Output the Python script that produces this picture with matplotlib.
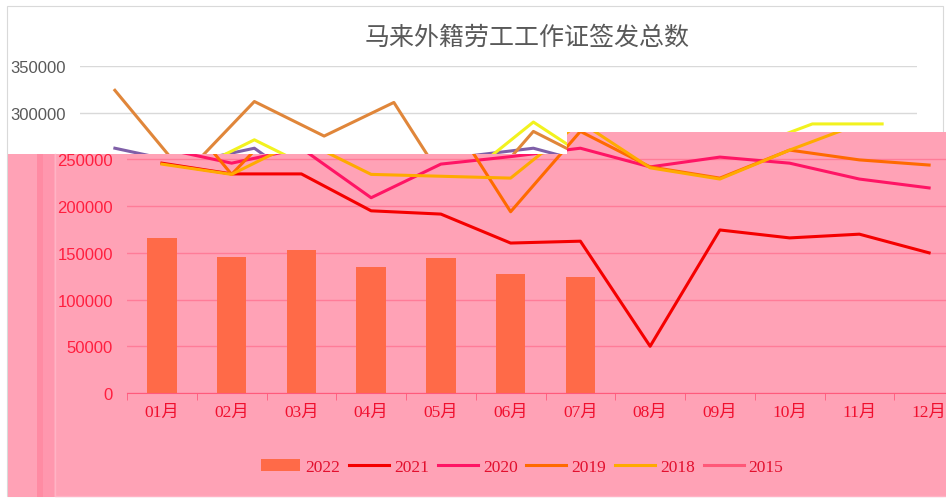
import numpy as np
import matplotlib.pyplot as plt
from matplotlib.patches import Polygon, Rectangle
from matplotlib.lines import Line2D
from matplotlib.transforms import Bbox, TransformedBbox

# data
months = ['01月', '02月', '03月', '04月', '05月', '06月',
          '07月', '08月', '09月', '10月', '11月', '12月']
s2022 = [166000, 146000, 153500, 134500, 144500, 127500, 124500]
s2021 = [246000, 234500, 234500, 195000, 191500, 160500, 162500, 50000, 174500, 166000, 170000, 150000]
s2020 = [262000, 246000, 262000, 209000, 245000, 253000, 262000, 242000, 252500, 246000, 229000, 219500]
s2019 = [324000, 234000, 312000, 275000, 311000, 194000, 280000, 242000, 230000, 260000, 249500, 244000]
s2018 = [245000, 234000, 271000, 234000, 232000, 230000, 290000, 241000, 229000, 260000, 288000, 288000]
s2015 = [np.nan] * 12  # no points visible for 2015
yticks = [0, 50000, 100000, 150000, 200000, 250000, 300000, 350000]
line_years = ['2021', '2020', '2019', '2018', '2015']

W, H = 946, 502
fig = plt.figure(figsize=(W / 100, H / 100), dpi=100)
fig.patch.set_facecolor('white')


def fx(px):
    return px / W


def fy(py):
    return 1 - py / H


def draw_chart(ax, bar_color, line_colors, grid_color, ylab_color, xlab_color, axis_color):
    x = np.arange(len(months))
    ax.bar(np.arange(len(s2022)), s2022, width=0.42, color=bar_color, label='2022', zorder=2)
    for vals, c, lab in zip([s2021, s2020, s2019, s2018, s2015], line_colors, line_years):
        ax.plot(x, vals, color=c, lw=2.2, label=lab, zorder=3)
    ax.set_xlim(-0.5, 11.5)
    ax.set_ylim(0, 350000)
    ax.set_yticks(yticks)
    ax.set_yticklabels([str(v) for v in yticks], family='Liberation Sans',
                       fontsize=12, color=ylab_color)
    ax.set_xticks(x)
    ax.set_xticklabels(months, family=['Liberation Serif', 'Noto Sans CJK SC'],
                       fontsize=12.5, color=xlab_color)
    ax.set_xticks(np.arange(-0.5, 12, 1), minor=True)
    ax.tick_params(axis='x', which='major', length=0, pad=8)
    ax.tick_params(axis='x', which='minor', length=5, color=axis_color)
    ax.tick_params(axis='y', length=0, pad=10)
    ax.grid(axis='y', color=grid_color, lw=1)
    ax.set_axisbelow(True)
    for s in ['top', 'right', 'left']:
        ax.spines[s].set_visible(False)
    ax.spines['bottom'].set_color(axis_color)


# chart as it shows in the white top part (its lower half sits under the pink)
axU = fig.add_axes([fx(80), fy(394), 837 / W, 327 / H])
draw_chart(axU, '#ED7D31', ['#C00000', '#7F5FA8', '#E0863A', '#F2F21F', '#A5A5A5'],
           '#D9D9D9', '#595959', '#595959', '#BFBFBF')
fig.text(fx(527), fy(38), '马来外籍劳工工作证签发总数', ha='center', va='center',
         family='Noto Sans CJK SC', fontsize=18, color='#595959')
fig.patches.append(Rectangle((fx(7), fy(497)), 936 / W, 490 / H, transform=fig.transFigure,
                             fill=False, edgecolor='#D9D9D9', lw=0.8, zorder=0.8))

# pink overlay region
pts = [(8, 155), (567, 155), (567, 133), (946, 133), (946, 498), (8, 498)]
pink = Polygon([(fx(a), fy(b)) for a, b in pts], closed=True, transform=fig.transFigure,
               facecolor='#FFA2B6', edgecolor='none', zorder=1)
fig.patches.append(pink)
fig.patches.append(Rectangle((fx(37), fy(498)), 6 / W, 343 / H, transform=fig.transFigure,
                             facecolor='#FF8BA3', edgecolor='none', zorder=1.1))
fig.patches.append(Rectangle((fx(43), fy(498)), 11 / W, 343 / H, transform=fig.transFigure,
                             facecolor='#FF97AE', edgecolor='none', zorder=1.1))
fig.lines.append(Line2D([fx(55), fx(55), fx(946)], [fy(155), fy(497), fy(497)],
                        transform=fig.transFigure, color='#FFB3C5', lw=1, zorder=1.2))

# shifted, tinted copy inside the pink region
axL = fig.add_axes([fx(127), fy(394), 837 / W, 327 / H])
axL.set_zorder(2)
axL.patch.set_visible(False)
lower_colors = ['#F50000', '#FF1565', '#FF6A00', '#FFAA00', '#FF5878']
draw_chart(axL, '#FF6A48', lower_colors, '#FF7C98', '#FF1F3F', '#F0102F', '#FF5A7C')

for art in axL.lines + axL.patches:
    art.set_clip_path(pink)
label_box = TransformedBbox(Bbox([[fx(8), fy(498)], [fx(567), fy(155)]]), fig.transFigure)
for t in axL.yaxis.get_major_ticks():
    t.gridline.set_clip_path(pink)
    t.label1.set_clip_on(True)
    t.label1.set_clip_box(label_box)

handles, labels = axL.get_legend_handles_labels()
order = ['2022'] + line_years
hmap = dict(zip(labels, handles))
leg = fig.legend([hmap[k] for k in order], order, loc='center',
                 bbox_to_anchor=(fx(522), fy(468)), ncol=6, frameon=False,
                 prop={'family': 'Liberation Serif', 'size': 12.5},
                 handlelength=2.3, handletextpad=0.3, columnspacing=0.5)
for txt in leg.get_texts():
    txt.set_color('#E2102E')

fig.savefig('out.png', dpi=100)
